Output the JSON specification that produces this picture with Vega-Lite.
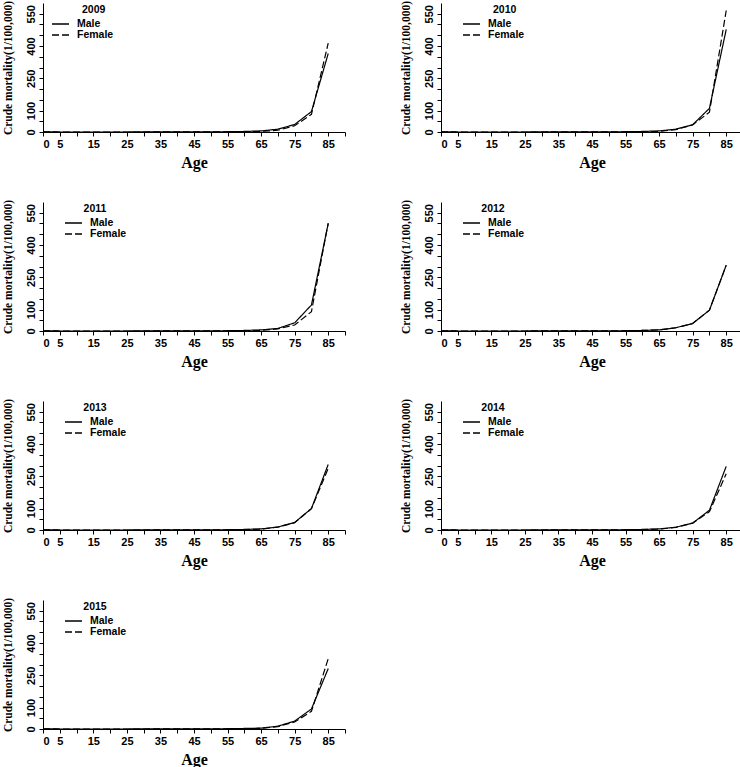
{
  "$schema": "https://vega.github.io/schema/vega-lite/v6.json",
  "padding": {"left": 1, "top": 0, "right": 0, "bottom": 0},
  "bounds": "flush",
  "columns": 2,
  "spacing": {"row": 70, "column": 96},
  "datasets": {
    "mort": [
      {"year":2009,"sex":"Male","age":0,"rate":0.3},{"year":2009,"sex":"Male","age":5,"rate":0.1},{"year":2009,"sex":"Male","age":10,"rate":0.1},{"year":2009,"sex":"Male","age":15,"rate":0.1},{"year":2009,"sex":"Male","age":20,"rate":0.1},{"year":2009,"sex":"Male","age":25,"rate":0.1},{"year":2009,"sex":"Male","age":30,"rate":0.2},{"year":2009,"sex":"Male","age":35,"rate":0.2},{"year":2009,"sex":"Male","age":40,"rate":0.3},{"year":2009,"sex":"Male","age":45,"rate":0.5},{"year":2009,"sex":"Male","age":50,"rate":0.8},{"year":2009,"sex":"Male","age":55,"rate":1.3},{"year":2009,"sex":"Male","age":60,"rate":2.5},{"year":2009,"sex":"Male","age":65,"rate":5},{"year":2009,"sex":"Male","age":70,"rate":13},{"year":2009,"sex":"Male","age":75,"rate":35},{"year":2009,"sex":"Male","age":80,"rate":95},{"year":2009,"sex":"Male","age":85,"rate":365},
      {"year":2009,"sex":"Female","age":0,"rate":0.2},{"year":2009,"sex":"Female","age":5,"rate":0.1},{"year":2009,"sex":"Female","age":10,"rate":0.1},{"year":2009,"sex":"Female","age":15,"rate":0.1},{"year":2009,"sex":"Female","age":20,"rate":0.1},{"year":2009,"sex":"Female","age":25,"rate":0.1},{"year":2009,"sex":"Female","age":30,"rate":0.1},{"year":2009,"sex":"Female","age":35,"rate":0.2},{"year":2009,"sex":"Female","age":40,"rate":0.2},{"year":2009,"sex":"Female","age":45,"rate":0.3},{"year":2009,"sex":"Female","age":50,"rate":0.5},{"year":2009,"sex":"Female","age":55,"rate":0.8},{"year":2009,"sex":"Female","age":60,"rate":1.5},{"year":2009,"sex":"Female","age":65,"rate":3},{"year":2009,"sex":"Female","age":70,"rate":8},{"year":2009,"sex":"Female","age":75,"rate":29},{"year":2009,"sex":"Female","age":80,"rate":82},{"year":2009,"sex":"Female","age":85,"rate":413},

      {"year":2010,"sex":"Male","age":0,"rate":0.3},{"year":2010,"sex":"Male","age":5,"rate":0.1},{"year":2010,"sex":"Male","age":10,"rate":0.1},{"year":2010,"sex":"Male","age":15,"rate":0.1},{"year":2010,"sex":"Male","age":20,"rate":0.1},{"year":2010,"sex":"Male","age":25,"rate":0.1},{"year":2010,"sex":"Male","age":30,"rate":0.2},{"year":2010,"sex":"Male","age":35,"rate":0.2},{"year":2010,"sex":"Male","age":40,"rate":0.3},{"year":2010,"sex":"Male","age":45,"rate":0.5},{"year":2010,"sex":"Male","age":50,"rate":0.8},{"year":2010,"sex":"Male","age":55,"rate":1.3},{"year":2010,"sex":"Male","age":60,"rate":2.5},{"year":2010,"sex":"Male","age":65,"rate":5},{"year":2010,"sex":"Male","age":70,"rate":13},{"year":2010,"sex":"Male","age":75,"rate":34},{"year":2010,"sex":"Male","age":80,"rate":110},{"year":2010,"sex":"Male","age":85,"rate":477},
      {"year":2010,"sex":"Female","age":0,"rate":0.2},{"year":2010,"sex":"Female","age":5,"rate":0.1},{"year":2010,"sex":"Female","age":10,"rate":0.1},{"year":2010,"sex":"Female","age":15,"rate":0.1},{"year":2010,"sex":"Female","age":20,"rate":0.1},{"year":2010,"sex":"Female","age":25,"rate":0.1},{"year":2010,"sex":"Female","age":30,"rate":0.1},{"year":2010,"sex":"Female","age":35,"rate":0.2},{"year":2010,"sex":"Female","age":40,"rate":0.2},{"year":2010,"sex":"Female","age":45,"rate":0.3},{"year":2010,"sex":"Female","age":50,"rate":0.5},{"year":2010,"sex":"Female","age":55,"rate":0.8},{"year":2010,"sex":"Female","age":60,"rate":1.5},{"year":2010,"sex":"Female","age":65,"rate":3},{"year":2010,"sex":"Female","age":70,"rate":11},{"year":2010,"sex":"Female","age":75,"rate":33},{"year":2010,"sex":"Female","age":80,"rate":92},{"year":2010,"sex":"Female","age":85,"rate":565},

      {"year":2011,"sex":"Male","age":0,"rate":0.3},{"year":2011,"sex":"Male","age":5,"rate":0.1},{"year":2011,"sex":"Male","age":10,"rate":0.1},{"year":2011,"sex":"Male","age":15,"rate":0.1},{"year":2011,"sex":"Male","age":20,"rate":0.1},{"year":2011,"sex":"Male","age":25,"rate":0.1},{"year":2011,"sex":"Male","age":30,"rate":0.2},{"year":2011,"sex":"Male","age":35,"rate":0.2},{"year":2011,"sex":"Male","age":40,"rate":0.3},{"year":2011,"sex":"Male","age":45,"rate":0.5},{"year":2011,"sex":"Male","age":50,"rate":0.8},{"year":2011,"sex":"Male","age":55,"rate":1.3},{"year":2011,"sex":"Male","age":60,"rate":2.5},{"year":2011,"sex":"Male","age":65,"rate":5},{"year":2011,"sex":"Male","age":70,"rate":12},{"year":2011,"sex":"Male","age":75,"rate":38},{"year":2011,"sex":"Male","age":80,"rate":121},{"year":2011,"sex":"Male","age":85,"rate":500},
      {"year":2011,"sex":"Female","age":0,"rate":0.2},{"year":2011,"sex":"Female","age":5,"rate":0.1},{"year":2011,"sex":"Female","age":10,"rate":0.1},{"year":2011,"sex":"Female","age":15,"rate":0.1},{"year":2011,"sex":"Female","age":20,"rate":0.1},{"year":2011,"sex":"Female","age":25,"rate":0.1},{"year":2011,"sex":"Female","age":30,"rate":0.1},{"year":2011,"sex":"Female","age":35,"rate":0.2},{"year":2011,"sex":"Female","age":40,"rate":0.2},{"year":2011,"sex":"Female","age":45,"rate":0.3},{"year":2011,"sex":"Female","age":50,"rate":0.5},{"year":2011,"sex":"Female","age":55,"rate":0.8},{"year":2011,"sex":"Female","age":60,"rate":1.5},{"year":2011,"sex":"Female","age":65,"rate":3},{"year":2011,"sex":"Female","age":70,"rate":10},{"year":2011,"sex":"Female","age":75,"rate":28},{"year":2011,"sex":"Female","age":80,"rate":90},{"year":2011,"sex":"Female","age":85,"rate":502},

      {"year":2012,"sex":"Male","age":0,"rate":0.3},{"year":2012,"sex":"Male","age":5,"rate":0.1},{"year":2012,"sex":"Male","age":10,"rate":0.1},{"year":2012,"sex":"Male","age":15,"rate":0.1},{"year":2012,"sex":"Male","age":20,"rate":0.1},{"year":2012,"sex":"Male","age":25,"rate":0.1},{"year":2012,"sex":"Male","age":30,"rate":0.2},{"year":2012,"sex":"Male","age":35,"rate":0.2},{"year":2012,"sex":"Male","age":40,"rate":0.3},{"year":2012,"sex":"Male","age":45,"rate":0.5},{"year":2012,"sex":"Male","age":50,"rate":0.8},{"year":2012,"sex":"Male","age":55,"rate":1.3},{"year":2012,"sex":"Male","age":60,"rate":2.5},{"year":2012,"sex":"Male","age":65,"rate":5},{"year":2012,"sex":"Male","age":70,"rate":15},{"year":2012,"sex":"Male","age":75,"rate":35},{"year":2012,"sex":"Male","age":80,"rate":97},{"year":2012,"sex":"Male","age":85,"rate":306},
      {"year":2012,"sex":"Female","age":0,"rate":0.3},{"year":2012,"sex":"Female","age":5,"rate":0.1},{"year":2012,"sex":"Female","age":10,"rate":0.1},{"year":2012,"sex":"Female","age":15,"rate":0.1},{"year":2012,"sex":"Female","age":20,"rate":0.1},{"year":2012,"sex":"Female","age":25,"rate":0.1},{"year":2012,"sex":"Female","age":30,"rate":0.2},{"year":2012,"sex":"Female","age":35,"rate":0.2},{"year":2012,"sex":"Female","age":40,"rate":0.3},{"year":2012,"sex":"Female","age":45,"rate":0.5},{"year":2012,"sex":"Female","age":50,"rate":0.8},{"year":2012,"sex":"Female","age":55,"rate":1.3},{"year":2012,"sex":"Female","age":60,"rate":2.5},{"year":2012,"sex":"Female","age":65,"rate":5},{"year":2012,"sex":"Female","age":70,"rate":15},{"year":2012,"sex":"Female","age":75,"rate":35},{"year":2012,"sex":"Female","age":80,"rate":97},{"year":2012,"sex":"Female","age":85,"rate":306},

      {"year":2013,"sex":"Male","age":0,"rate":0.3},{"year":2013,"sex":"Male","age":5,"rate":0.1},{"year":2013,"sex":"Male","age":10,"rate":0.1},{"year":2013,"sex":"Male","age":15,"rate":0.1},{"year":2013,"sex":"Male","age":20,"rate":0.1},{"year":2013,"sex":"Male","age":25,"rate":0.1},{"year":2013,"sex":"Male","age":30,"rate":0.2},{"year":2013,"sex":"Male","age":35,"rate":0.2},{"year":2013,"sex":"Male","age":40,"rate":0.3},{"year":2013,"sex":"Male","age":45,"rate":0.5},{"year":2013,"sex":"Male","age":50,"rate":0.8},{"year":2013,"sex":"Male","age":55,"rate":1.3},{"year":2013,"sex":"Male","age":60,"rate":2.5},{"year":2013,"sex":"Male","age":65,"rate":5},{"year":2013,"sex":"Male","age":70,"rate":14},{"year":2013,"sex":"Male","age":75,"rate":35},{"year":2013,"sex":"Male","age":80,"rate":100},{"year":2013,"sex":"Male","age":85,"rate":305},
      {"year":2013,"sex":"Female","age":0,"rate":0.2},{"year":2013,"sex":"Female","age":5,"rate":0.1},{"year":2013,"sex":"Female","age":10,"rate":0.1},{"year":2013,"sex":"Female","age":15,"rate":0.1},{"year":2013,"sex":"Female","age":20,"rate":0.1},{"year":2013,"sex":"Female","age":25,"rate":0.1},{"year":2013,"sex":"Female","age":30,"rate":0.1},{"year":2013,"sex":"Female","age":35,"rate":0.2},{"year":2013,"sex":"Female","age":40,"rate":0.2},{"year":2013,"sex":"Female","age":45,"rate":0.3},{"year":2013,"sex":"Female","age":50,"rate":0.5},{"year":2013,"sex":"Female","age":55,"rate":0.9},{"year":2013,"sex":"Female","age":60,"rate":2},{"year":2013,"sex":"Female","age":65,"rate":4},{"year":2013,"sex":"Female","age":70,"rate":13},{"year":2013,"sex":"Female","age":75,"rate":34},{"year":2013,"sex":"Female","age":80,"rate":99},{"year":2013,"sex":"Female","age":85,"rate":287},

      {"year":2014,"sex":"Male","age":0,"rate":0.3},{"year":2014,"sex":"Male","age":5,"rate":0.1},{"year":2014,"sex":"Male","age":10,"rate":0.1},{"year":2014,"sex":"Male","age":15,"rate":0.1},{"year":2014,"sex":"Male","age":20,"rate":0.1},{"year":2014,"sex":"Male","age":25,"rate":0.1},{"year":2014,"sex":"Male","age":30,"rate":0.2},{"year":2014,"sex":"Male","age":35,"rate":0.2},{"year":2014,"sex":"Male","age":40,"rate":0.3},{"year":2014,"sex":"Male","age":45,"rate":0.5},{"year":2014,"sex":"Male","age":50,"rate":0.8},{"year":2014,"sex":"Male","age":55,"rate":1.3},{"year":2014,"sex":"Male","age":60,"rate":2.5},{"year":2014,"sex":"Male","age":65,"rate":5},{"year":2014,"sex":"Male","age":70,"rate":13},{"year":2014,"sex":"Male","age":75,"rate":32},{"year":2014,"sex":"Male","age":80,"rate":92},{"year":2014,"sex":"Male","age":85,"rate":296},
      {"year":2014,"sex":"Female","age":0,"rate":0.2},{"year":2014,"sex":"Female","age":5,"rate":0.1},{"year":2014,"sex":"Female","age":10,"rate":0.1},{"year":2014,"sex":"Female","age":15,"rate":0.1},{"year":2014,"sex":"Female","age":20,"rate":0.1},{"year":2014,"sex":"Female","age":25,"rate":0.1},{"year":2014,"sex":"Female","age":30,"rate":0.1},{"year":2014,"sex":"Female","age":35,"rate":0.2},{"year":2014,"sex":"Female","age":40,"rate":0.2},{"year":2014,"sex":"Female","age":45,"rate":0.3},{"year":2014,"sex":"Female","age":50,"rate":0.5},{"year":2014,"sex":"Female","age":55,"rate":0.9},{"year":2014,"sex":"Female","age":60,"rate":2},{"year":2014,"sex":"Female","age":65,"rate":4},{"year":2014,"sex":"Female","age":70,"rate":12},{"year":2014,"sex":"Female","age":75,"rate":32},{"year":2014,"sex":"Female","age":80,"rate":85},{"year":2014,"sex":"Female","age":85,"rate":262},

      {"year":2015,"sex":"Male","age":0,"rate":0.3},{"year":2015,"sex":"Male","age":5,"rate":0.1},{"year":2015,"sex":"Male","age":10,"rate":0.1},{"year":2015,"sex":"Male","age":15,"rate":0.1},{"year":2015,"sex":"Male","age":20,"rate":0.1},{"year":2015,"sex":"Male","age":25,"rate":0.1},{"year":2015,"sex":"Male","age":30,"rate":0.2},{"year":2015,"sex":"Male","age":35,"rate":0.2},{"year":2015,"sex":"Male","age":40,"rate":0.3},{"year":2015,"sex":"Male","age":45,"rate":0.5},{"year":2015,"sex":"Male","age":50,"rate":0.8},{"year":2015,"sex":"Male","age":55,"rate":1.3},{"year":2015,"sex":"Male","age":60,"rate":2.5},{"year":2015,"sex":"Male","age":65,"rate":4},{"year":2015,"sex":"Male","age":70,"rate":13},{"year":2015,"sex":"Male","age":75,"rate":37},{"year":2015,"sex":"Male","age":80,"rate":93},{"year":2015,"sex":"Male","age":85,"rate":281},
      {"year":2015,"sex":"Female","age":0,"rate":0.2},{"year":2015,"sex":"Female","age":5,"rate":0.1},{"year":2015,"sex":"Female","age":10,"rate":0.1},{"year":2015,"sex":"Female","age":15,"rate":0.1},{"year":2015,"sex":"Female","age":20,"rate":0.1},{"year":2015,"sex":"Female","age":25,"rate":0.1},{"year":2015,"sex":"Female","age":30,"rate":0.1},{"year":2015,"sex":"Female","age":35,"rate":0.2},{"year":2015,"sex":"Female","age":40,"rate":0.2},{"year":2015,"sex":"Female","age":45,"rate":0.3},{"year":2015,"sex":"Female","age":50,"rate":0.5},{"year":2015,"sex":"Female","age":55,"rate":0.8},{"year":2015,"sex":"Female","age":60,"rate":1.5},{"year":2015,"sex":"Female","age":65,"rate":3},{"year":2015,"sex":"Female","age":70,"rate":11},{"year":2015,"sex":"Female","age":75,"rate":33},{"year":2015,"sex":"Female","age":80,"rate":82},{"year":2015,"sex":"Female","age":85,"rate":327}
    ]
  },
  "data": {"name": "mort"},
  "resolve": {"legend": {"strokeDash": "independent"}},
  "concat": [
    {"width":302,"height":129,"transform":[{"filter":"datum.year==2009"}],"mark":{"type":"line","color":"black","strokeWidth":1.2},
     "encoding":{
      "x":{"field":"age","type":"quantitative","scale":{"domain":[0,90]},"title":"Age","axis":{"values":[0,5,10,15,20,25,30,35,40,45,50,55,60,65,70,75,80,85,90],"labelExpr":"datum.value==0||datum.value%10==5?datum.label:''"}},
      "y":{"field":"rate","type":"quantitative","scale":{"domain":[0,600]},"title":"Crude mortality(1/100,000)","axis":{"values":[0,50,100,150,200,250,300,350,400,450,500,550],"labelExpr":"indexof([0,100,250,400,550],datum.value)>=0?datum.label:''"}},
      "strokeDash":{"field":"sex","type":"nominal","scale":{"domain":["Male","Female"],"range":[[1,0],[7,3]]},"legend":{"title":"2009","legendX":8,"legendY":2}}}},
    {"width":302,"height":129,"transform":[{"filter":"datum.year==2010"}],"mark":{"type":"line","color":"black","strokeWidth":1.2},
     "encoding":{
      "x":{"field":"age","type":"quantitative","scale":{"domain":[0,90]},"title":"Age","axis":{"values":[0,5,10,15,20,25,30,35,40,45,50,55,60,65,70,75,80,85,90],"labelExpr":"datum.value==0||datum.value%10==5?datum.label:''"}},
      "y":{"field":"rate","type":"quantitative","scale":{"domain":[0,600]},"title":"Crude mortality(1/100,000)","axis":{"values":[0,50,100,150,200,250,300,350,400,450,500,550],"labelExpr":"indexof([0,100,250,400,550],datum.value)>=0?datum.label:''"}},
      "strokeDash":{"field":"sex","type":"nominal","scale":{"domain":["Male","Female"],"range":[[1,0],[7,3]]},"legend":{"title":"2010","legendX":21,"legendY":2}}}},
    {"width":302,"height":129,"transform":[{"filter":"datum.year==2011"}],"mark":{"type":"line","color":"black","strokeWidth":1.2},
     "encoding":{
      "x":{"field":"age","type":"quantitative","scale":{"domain":[0,90]},"title":"Age","axis":{"values":[0,5,10,15,20,25,30,35,40,45,50,55,60,65,70,75,80,85,90],"labelExpr":"datum.value==0||datum.value%10==5?datum.label:''"}},
      "y":{"field":"rate","type":"quantitative","scale":{"domain":[0,600]},"title":"Crude mortality(1/100,000)","axis":{"values":[0,50,100,150,200,250,300,350,400,450,500,550],"labelExpr":"indexof([0,100,250,400,550],datum.value)>=0?datum.label:''"}},
      "strokeDash":{"field":"sex","type":"nominal","scale":{"domain":["Male","Female"],"range":[[1,0],[7,3]]},"legend":{"title":"2011","legendX":21,"legendY":2,"titleAlign":"center"}}}},
    {"width":302,"height":129,"transform":[{"filter":"datum.year==2012"}],"mark":{"type":"line","color":"black","strokeWidth":1.2},
     "encoding":{
      "x":{"field":"age","type":"quantitative","scale":{"domain":[0,90]},"title":"Age","axis":{"values":[0,5,10,15,20,25,30,35,40,45,50,55,60,65,70,75,80,85,90],"labelExpr":"datum.value==0||datum.value%10==5?datum.label:''"}},
      "y":{"field":"rate","type":"quantitative","scale":{"domain":[0,600]},"title":"Crude mortality(1/100,000)","axis":{"values":[0,50,100,150,200,250,300,350,400,450,500,550],"labelExpr":"indexof([0,100,250,400,550],datum.value)>=0?datum.label:''"}},
      "strokeDash":{"field":"sex","type":"nominal","scale":{"domain":["Male","Female"],"range":[[1,0],[7,3]]},"legend":{"title":"2012","legendX":21,"legendY":2,"titleAlign":"center"}}}},
    {"width":302,"height":129,"transform":[{"filter":"datum.year==2013"}],"mark":{"type":"line","color":"black","strokeWidth":1.2},
     "encoding":{
      "x":{"field":"age","type":"quantitative","scale":{"domain":[0,90]},"title":"Age","axis":{"values":[0,5,10,15,20,25,30,35,40,45,50,55,60,65,70,75,80,85,90],"labelExpr":"datum.value==0||datum.value%10==5?datum.label:''"}},
      "y":{"field":"rate","type":"quantitative","scale":{"domain":[0,600]},"title":"Crude mortality(1/100,000)","axis":{"values":[0,50,100,150,200,250,300,350,400,450,500,550],"labelExpr":"indexof([0,100,250,400,550],datum.value)>=0?datum.label:''"}},
      "strokeDash":{"field":"sex","type":"nominal","scale":{"domain":["Male","Female"],"range":[[1,0],[7,3]]},"legend":{"title":"2013","legendX":21,"legendY":2,"titleAlign":"center"}}}},
    {"width":302,"height":129,"transform":[{"filter":"datum.year==2014"}],"mark":{"type":"line","color":"black","strokeWidth":1.2},
     "encoding":{
      "x":{"field":"age","type":"quantitative","scale":{"domain":[0,90]},"title":"Age","axis":{"values":[0,5,10,15,20,25,30,35,40,45,50,55,60,65,70,75,80,85,90],"labelExpr":"datum.value==0||datum.value%10==5?datum.label:''"}},
      "y":{"field":"rate","type":"quantitative","scale":{"domain":[0,600]},"title":"Crude mortality(1/100,000)","axis":{"values":[0,50,100,150,200,250,300,350,400,450,500,550],"labelExpr":"indexof([0,100,250,400,550],datum.value)>=0?datum.label:''"}},
      "strokeDash":{"field":"sex","type":"nominal","scale":{"domain":["Male","Female"],"range":[[1,0],[7,3]]},"legend":{"title":"2014","legendX":21,"legendY":2,"titleAlign":"center"}}}},
    {"width":302,"height":129,"transform":[{"filter":"datum.year==2015"}],"mark":{"type":"line","color":"black","strokeWidth":1.2},
     "encoding":{
      "x":{"field":"age","type":"quantitative","scale":{"domain":[0,90]},"title":"Age","axis":{"values":[0,5,10,15,20,25,30,35,40,45,50,55,60,65,70,75,80,85,90],"labelExpr":"datum.value==0||datum.value%10==5?datum.label:''"}},
      "y":{"field":"rate","type":"quantitative","scale":{"domain":[0,600]},"title":"Crude mortality(1/100,000)","axis":{"values":[0,50,100,150,200,250,300,350,400,450,500,550],"labelExpr":"indexof([0,100,250,400,550],datum.value)>=0?datum.label:''"}},
      "strokeDash":{"field":"sex","type":"nominal","scale":{"domain":["Male","Female"],"range":[[1,0],[7,3]]},"legend":{"title":"2015","legendX":21,"legendY":2,"titleAlign":"center"}}}}
  ],
  "config": {
    "view": {"stroke": null},
    "axis": {"grid": false, "domainColor": "black", "domainWidth": 1, "tickColor": "black", "tickSize": 4, "tickWidth": 1,
             "labelFont": "Liberation Sans", "labelFontWeight": "bold", "labelFontSize": 11, "labelColor": "black",
             "titleFont": "Liberation Serif", "titleFontWeight": "bold", "titleColor": "black"},
    "axisX": {"labelPadding": 2, "titleFontSize": 16, "titlePadding": 5, "labelAngle": 0},
    "axisY": {"labelAngle": -90, "labelPadding": 3, "titleFontSize": 11.5, "titlePadding": 12},
    "legend": {"orient": "none", "titleFont": "Liberation Sans", "titleFontWeight": "bold", "titleFontSize": 10.5, "titleColor": "black",
               "titleAnchor": "middle", "titleAlign": "left", "titlePadding": 3,
               "labelFont": "Liberation Sans", "labelFontWeight": "bold", "labelFontSize": 10.5, "labelColor": "black",
               "symbolType": "stroke", "symbolSize": 289, "symbolStrokeWidth": 1.3, "symbolStrokeColor": "black", "symbolOffset": 0,
               "clipHeight": 11, "rowPadding": 0, "labelOffset": 7, "padding": 0}
  }
}
